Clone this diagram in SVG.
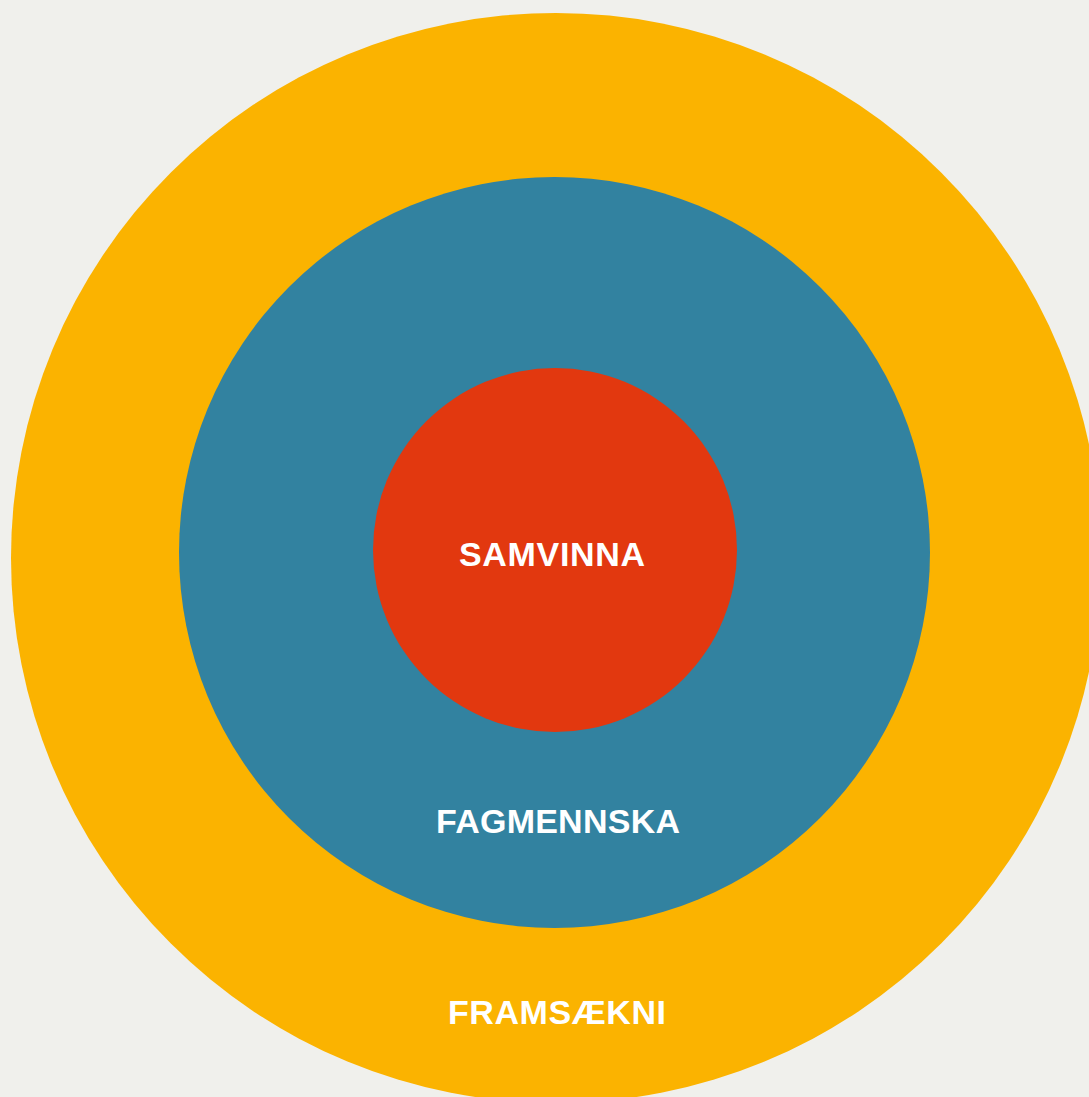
<svg xmlns="http://www.w3.org/2000/svg" width="1089" height="1097" viewBox="0 0 1089 1097">
<style>
.lbl{font-family:"Liberation Sans","DejaVu Sans",sans-serif;font-weight:bold;font-size:34px;fill:#ffffff;text-anchor:middle}
</style>
<rect width="1089" height="1097" fill="#f0f0ec"/>
<g id="framsaekni">
<circle cx="556" cy="558" r="545" fill="#fbb300"/>
<text class="lbl" x="557" y="1024" textLength="218" lengthAdjust="spacing">FRAMSÆKNI</text>
</g>
<g id="fagmennska">
<circle cx="554.5" cy="552.5" r="375.5" fill="#3282a0"/>
<text class="lbl" x="558" y="833" textLength="244" lengthAdjust="spacing">FAGMENNSKA</text>
</g>
<g id="samvinna">
<circle cx="555" cy="550" r="182" fill="#e2380f"/>
<text class="lbl" x="552" y="566" textLength="186" lengthAdjust="spacing">SAMVINNA</text>
</g>
<g id="connectors"/>
</svg>
